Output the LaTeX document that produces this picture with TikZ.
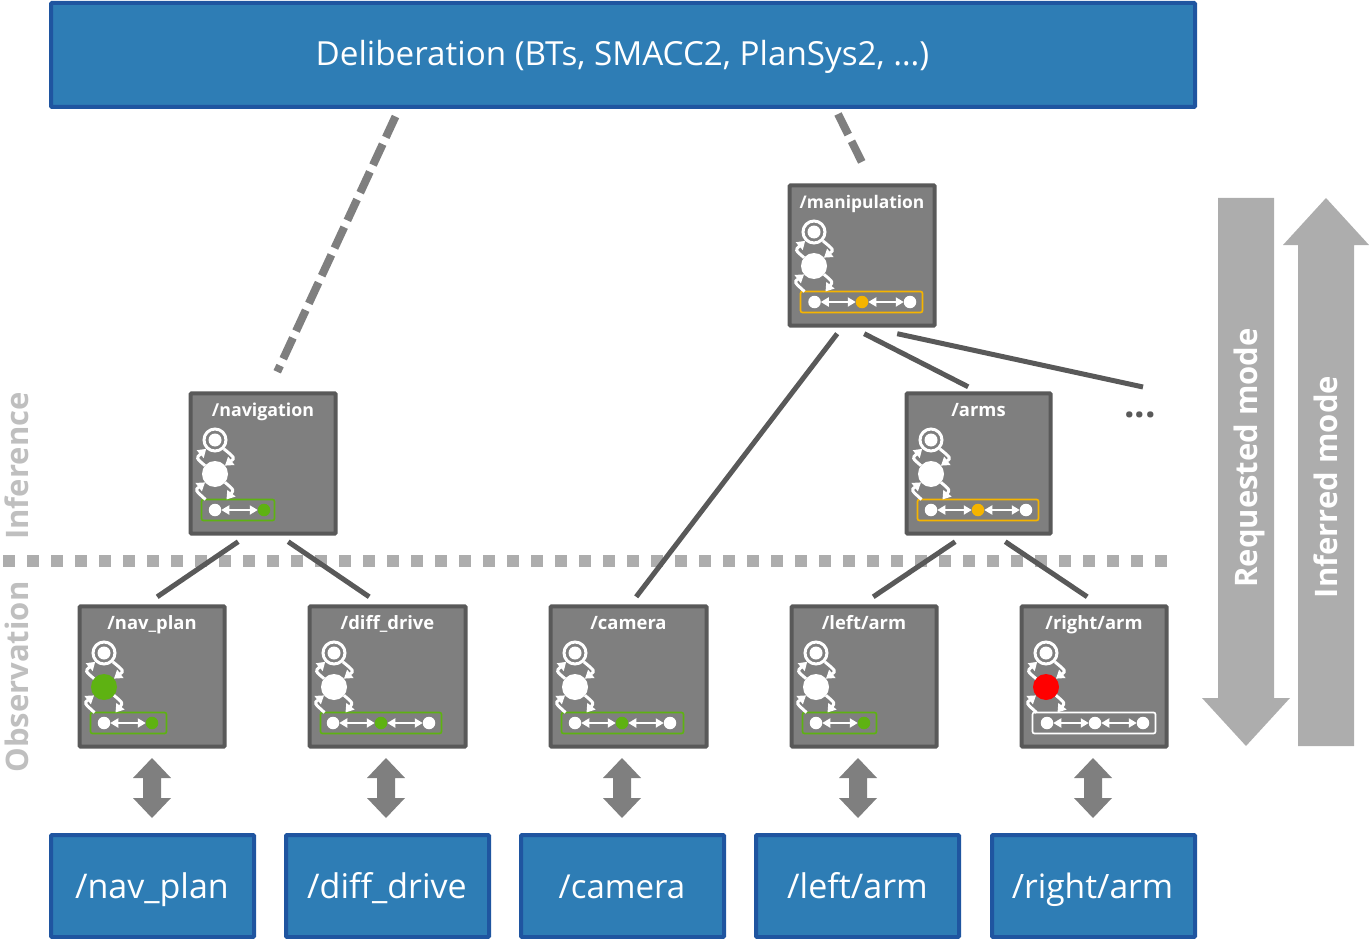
\documentclass[tikz,border=0pt]{standalone}
\usepackage{fontspec}
\setmainfont{Open Sans}
\usetikzlibrary{arrows.meta,calc}
\definecolor{blueF}{HTML}{2E7DB5}
\definecolor{blueD}{HTML}{1F55A0}
\definecolor{modF}{HTML}{7F7F7F}
\definecolor{modD}{HTML}{595959}
\definecolor{okG}{HTML}{5EB212}
\definecolor{warnY}{HTML}{F5B400}
\definecolor{sideG}{HTML}{ADADAD}
\definecolor{lblG}{HTML}{BFBFBF}
\tikzset{
 x=1pt,y=-1pt,
 bluebox/.style={draw=blueD,fill=blueF,line width=4pt,rounded corners=1pt,text=white,inner sep=0pt,outer sep=0pt,anchor=north west},
 modbox/.style={draw=modD,fill=modF,line width=4pt,rounded corners=1pt,inner sep=0pt,outer sep=0pt,anchor=north west},
 modlabel/.style={text=white,font=\fontsize{18.4}{20}\selectfont\bfseries,inner sep=0pt,anchor=base},
 bigstate/.style={circle,minimum size=26pt,inner sep=0pt,outer sep=0pt,fill=white},
 ringstate/.style={circle,minimum size=22pt,inner sep=0pt,outer sep=1.5pt,draw=white,line width=3pt,fill=modF},
 ringinner/.style={circle,minimum size=13pt,inner sep=0pt,fill=white},
 smallstate/.style={circle,minimum size=12.5pt,inner sep=0pt,outer sep=0pt,fill=white},
 frameb/.style={rounded corners=2pt,line width=1.7pt,inner sep=0pt,outer sep=0pt,anchor=north west},
 trans/.style={white,line width=3pt,-{Triangle[length=8pt,width=10pt]}},
 ringarrow/.style={white,line width=2pt,{Triangle[length=8pt,width=9pt]}-{Triangle[length=8pt,width=9pt]}},
 link/.style={draw=modD,line width=5pt},
 dashlink/.style={draw=modF,line width=8pt,dash pattern=on 23pt off 7.5pt},
 dblarrow/.style={fill=modF,draw=none},
 sidearrow/.style={fill=sideG,draw=none},
 sidetext/.style={text=white,rotate=90,font=\fontsize{31}{32}\selectfont\bfseries,inner sep=0pt,anchor=base},
 zonetext/.style={text=lblG,rotate=90,font=\fontsize{31}{32}\selectfont\bfseries,inner sep=0pt,anchor=base},
 bottext/.style={font=\fontsize{34}{40}\selectfont,text=white,inner sep=0pt,anchor=base},
}
% id, x, y, w, label, middle colour
\newcommand{\modul}[6]{%
 \node[modbox,minimum width=#4pt-3pt,minimum height=140.4pt] (#1) at (#2+1.7,#3+1.3) {};
 \node[modlabel] (#1-l) at ($(#2,#3)+(#4/2,24.5)$) {#5};
 \node[ringstate] (#1-t) at ($(#2,#3)+(26,48)$) {};
 \node[ringinner] (#1-ti) at (#1-t.center) {};
 \node[bigstate,fill=#6] (#1-m) at ($(#2,#3)+(26,82)$) {};
}
% id, y-top, x-left, x-right, colour
\newcommand{\ring}[5]{%
 \node[frameb,draw=#5,minimum width=#4pt-#3pt-1pt,minimum height=21pt] (#1-f) at (#3+.5,#2+107.5) {};
 \draw[trans] (#1-m.140) .. controls ($(#1-m)+(-19,-16)$) .. (#1-t.225);
 \draw[trans] (#1-t.-45) .. controls ($(#1-m)+(20,-16)$) .. (#1-m.40);
 \draw[trans] ($(#1-f.north west)+(4,0)$) .. controls ($(#1-m)+(-20,16)$) .. (#1-m.220);
 \draw[trans] (#1-m.-40) .. controls ($(#1-m)+(19,16)$) .. ($(#1-f.north west)+(25,0)$);
}
\newcommand{\dbl}[2]{% id, centre x
 \node[inner sep=0pt,minimum size=0pt] (#1) at (#2,788) {};
 \fill[dblarrow] ($(#1)+(0,-30)$) -- ++(19,20) -- ++(-10,0) -- ++(0,20) -- ++(10,0) -- ++(-19,20) -- ++(-19,-20) -- ++(10,0) -- ++(0,-20) -- ++(-10,0) -- cycle;
}
\newcommand{\stt}[4]{% name, x, y, colour
 \node[smallstate,fill=#4] (#1) at (#2,#3) {};
}
\begin{document}
\begin{tikzpicture}
\useasboundingbox (0,0) rectangle (1369,939);
% zone divider
\coordinate (divA) at (3,561);
\coordinate (divB) at (1167,561);
\draw[sideG,line width=12pt,dash pattern=on 12pt off 12pt] (divA) -- (divB);
\node[zonetext] (inf) at (28,466) {Inference};
\node[zonetext] (obs) at (28,677) {Observation};
% side arrows
\fill[sidearrow] (1218,198) -- (1274,198) -- (1274,698) -- (1290,698) -- (1246,746) -- (1202,698) -- (1218,698) -- cycle;
\fill[sidearrow] (1298,746) -- (1354,746) -- (1354,245) -- (1369,245) -- (1326,198) -- (1283,245) -- (1298,245) -- cycle;
\node[sidetext] (req) at (1257,458) {Requested mode};
\node[sidetext] (infm) at (1337,487) {Inferred mode};
% blue
\node[bluebox,minimum width=1144pt,minimum height=104pt] (delib) at (51,3) {};
\node[text=white,font=\fontsize{33.2}{38}\selectfont,inner sep=0pt,anchor=base] (delibt) at (622.5,66) {Deliberation (BTs, SMACC2, PlanSys2, …)};
\node[bluebox,minimum width=203pt,minimum height=102pt] (bnav) at (51,835) {};
\node[bluebox,minimum width=203pt,minimum height=102pt] (bdiff) at (286,835) {};
\node[bluebox,minimum width=203pt,minimum height=102pt] (bcam) at (521,835) {};
\node[bluebox,minimum width=203pt,minimum height=102pt] (bleft) at (756,835) {};
\node[bluebox,minimum width=203pt,minimum height=102pt] (bright) at (992,835) {};
\node[bottext] (tnav) at (152,898) {/nav\_plan};
\node[bottext] (tdiff) at (387,898) {/diff\_drive};
\node[bottext,font=\fontsize{33}{40}\selectfont] (tcam) at (622,898) {/camera};
\node[bottext] (tleft) at (857.5,898) {/left/arm};
\node[bottext,font=\fontsize{33.6}{40}\selectfont] (tright) at (1092.5,898) {/right/arm};
% modules
\modul{manip}{788}{184}{148}{{\fontsize{17.4}{20}\selectfont /manipulation}}{white}
\modul{navi}{189}{392}{148}{{\fontsize{17.8}{20}\selectfont /navigation}}{white}
\modul{arms}{905}{392}{147}{/arms}{white}
\modul{navp}{78}{605}{148}{/nav\_plan}{okG}
\modul{diffd}{308}{605}{159}{/diff\_drive}{white}
\modul{cam}{549}{605}{159}{/camera}{white}
\modul{larm}{790}{605}{148}{/left/arm}{white}
\modul{rarm}{1020}{605}{148}{/right/arm}{red}
% frames
\ring{manip}{184}{800}{923}{warnY}
\ring{navi}{392}{201}{275}{okG}
\ring{arms}{392}{917}{1039}{warnY}
\ring{navp}{605}{90}{167}{okG}
\ring{diffd}{605}{320}{442}{okG}
\ring{cam}{605}{561}{684}{okG}
\ring{larm}{605}{802}{877}{okG}
\ring{rarm}{605}{1032}{1156}{white}
% small states
\stt{m1}{814.5}{302}{white}\stt{m2}{862}{302}{warnY}\stt{m3}{910}{302}{white}
\draw[ringarrow] (m1) -- (m2); \draw[ringarrow] (m2) -- (m3);
\stt{n1}{215}{510}{white}\stt{n2}{264}{510}{okG}
\draw[ringarrow] (n1) -- (n2);
\stt{a1}{931}{510}{white}\stt{a2}{978}{510}{warnY}\stt{a3}{1026}{510}{white}
\draw[ringarrow] (a1) -- (a2); \draw[ringarrow] (a2) -- (a3);
\stt{p1}{104}{723}{white}\stt{p2}{152}{723}{okG}
\draw[ringarrow] (p1) -- (p2);
\stt{d1}{333}{723}{white}\stt{d2}{381}{723}{okG}\stt{d3}{429}{723}{white}
\draw[ringarrow] (d1) -- (d2); \draw[ringarrow] (d2) -- (d3);
\stt{c1}{575}{723}{white}\stt{c2}{622}{723}{okG}\stt{c3}{670}{723}{white}
\draw[ringarrow] (c1) -- (c2); \draw[ringarrow] (c2) -- (c3);
\stt{l1}{816}{723}{white}\stt{l2}{864}{723}{okG}
\draw[ringarrow] (l1) -- (l2);
\stt{r1}{1047}{723}{white}\stt{r2}{1095}{723}{white}\stt{r3}{1143}{723}{white}
\draw[ringarrow] (r1) -- (r2); \draw[ringarrow] (r2) -- (r3);
% connectors
\draw[dashlink] ([shift={(-227.5,9.5)}]delib.south) -- ([shift={(14,-21.5)}]navi.north);
\draw[dashlink] ([shift={(215,7)}]delib.south) -- ([shift={(1,-20.5)}]manip.north);
\draw[link] ([shift={(-25,8)}]manip.south) -- ([shift={(7.5,-9.5)}]cam.north);
\draw[link] ([shift={(2,8)}]manip.south) -- ([shift={(-10.5,-6.5)}]arms.north);
\coordinate (more) at (1143,387);
\draw[link] ([shift={(35,8)}]manip.south) -- (more);
\draw[link] ([shift={(-25,8)}]navi.south) -- ([shift={(5,-9.5)}]navp.north);
\draw[link] ([shift={(25,8)}]navi.south) -- ([shift={(-18.5,-9.5)}]diffd.north);
\draw[link] ([shift={(-23.5,8)}]arms.south) -- ([shift={(9,-9.5)}]larm.north);
\draw[link] ([shift={(26.5,8)}]arms.south) -- ([shift={(-7,-9.5)}]rarm.north);
\node[text=modD,font=\fontsize{37}{38}\selectfont\bfseries,inner sep=0pt,anchor=base] (dots) at (1140,417) {...};
% io arrows
\dbl{ioa}{152}\dbl{iob}{386}\dbl{ioc}{622}\dbl{iod}{858}\dbl{ioe}{1093}
\end{tikzpicture}
\end{document}
